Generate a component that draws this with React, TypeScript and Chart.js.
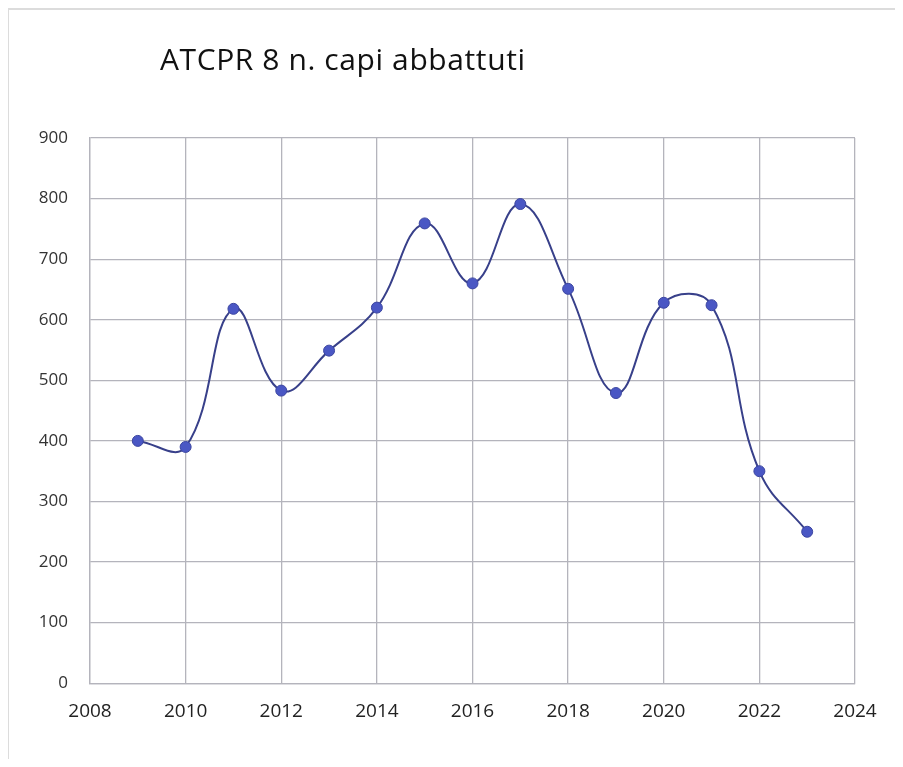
import React, { useEffect, useRef } from "react";
import { Chart, registerables } from "chart.js";

Chart.register(...registerables);

const TITLE = "ATCPR 8 n. capi abbattuti";
const years = [2009, 2010, 2011, 2012, 2013, 2014, 2015, 2016, 2017, 2018, 2019, 2020, 2021, 2022, 2023];
const culled = [400, 390, 618, 483, 549, 620, 759, 660, 791, 651, 479, 628, 624, 350, 250];
const xMin = 2008;
const xMax = 2024;
const xStep = 2;
const yMin = 0;
const yMax = 900;
const yStep = 100;

export default function App() {
  const ref = useRef<HTMLCanvasElement | null>(null);

  useEffect(() => {
    if (!ref.current) return;
    const chart = new Chart(ref.current, {
      type: "scatter",
      data: {
        datasets: [
          {
            label: TITLE,
            data: years.map((y, i) => ({ x: y, y: culled[i] })),
            showLine: true,
            tension: 0.42,
            borderColor: "#38408a",
            borderWidth: 2,
            pointRadius: 5.5,
            pointBackgroundColor: "#4a57c4",
            pointBorderColor: "#3c46a0",
            pointBorderWidth: 1,
          },
        ],
      },
      options: {
        animation: false,
        responsive: true,
        maintainAspectRatio: false,
        layout: { padding: { left: 21, top: 128, right: 40, bottom: 19 } },
        plugins: { legend: { display: false }, tooltip: { enabled: false }, title: { display: false } },
        scales: {
          x: {
            type: "linear",
            min: xMin,
            max: xMax,
            ticks: {
              stepSize: xStep,
              padding: 17,
              color: "#222",
              font: { family: "Open Sans", size: 19 },
              callback: (v: any) => String(v),
            },
            grid: { color: "#b4b4bc", lineWidth: 1.3, drawTicks: false },
            border: { color: "#b4b4bc", width: 1.3 },
          },
          y: {
            min: yMin,
            max: yMax,
            afterFit: (s: any) => {
              s.width = 60;
            },
            ticks: {
              stepSize: yStep,
              padding: 22,
              color: "#333",
              font: { family: "Open Sans", size: 17 },
            },
            grid: { color: "#b4b4bc", lineWidth: 1.3, drawTicks: false },
            border: { color: "#b4b4bc", width: 1.3 },
          },
        },
      },
    });
    return () => chart.destroy();
  }, []);

  return (
    <div
      style={{
        position: "relative",
        width: 887,
        height: 751,
        boxSizing: "border-box",
        borderTop: "2px solid #dcdcdc",
        borderLeft: "1px solid #dcdcdc",
        background: "#fff",
      }}
    >
      <div
        style={{
          position: "absolute",
          left: 151,
          top: 28,
          fontFamily: "'Open Sans', sans-serif",
          fontSize: 30,
          letterSpacing: 0.6,
          color: "#111",
          whiteSpace: "nowrap",
        }}
      >
        {TITLE}
      </div>
      <canvas ref={ref} />
    </div>
  );
}
